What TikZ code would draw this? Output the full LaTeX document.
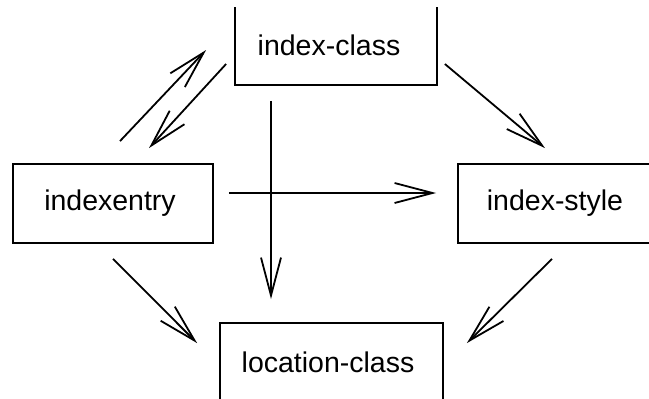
\documentclass[tikz,border=0pt]{standalone}
\usepackage{fontspec}
\setmainfont{Liberation Sans}
\usetikzlibrary{arrows.meta}

\tikzset{
  kasten/.style={draw, line width=1.8pt, inner sep=0pt,
    minimum width=#1, minimum height=79pt,
    font=\fontsize{28.5}{34}\selectfont},
  pfeil/.style={line width=1.8pt, -{Straight Barb[length=38pt,width=20pt]}}
}

\begin{document}
\begin{tikzpicture}[x=1pt, y=-1pt]
    % Rahmen der Zeichnung (y zaehlt nach unten)
    \useasboundingbox (0,0) rectangle (649,399);
    \clip (0,7) rectangle (649,399);

    % Die vier Kaesten (Text etwas nach links versetzt)
    \node[kasten=202pt] (klasse)  at (336,45.5)    {\kern-14pt index-class};
    \node[kasten=200pt] (eintrag) at (113,203.5)   {\kern-6pt indexentry};
    \node[kasten=194pt] (stil)    at (555,203.5)   {index-style};
    \node[kasten=223pt] (ort)     at (331.5,362.5) {\kern-7pt location-class};

    % Pfeile zwischen den Kaesten
    \draw[pfeil] ([shift={(7,-22)}]eintrag.north) -- ([shift={(-28,4.5)}]klasse.west);
    \draw[pfeil] ([shift={(-8,18.5)}]klasse.west) -- ([shift={(36,-15)}]eintrag.north);
    \draw[pfeil] ([shift={(-65,15)}]klasse.south) -- ([shift={(-60.5,-23)}]ort.north);
    \draw[pfeil] ([shift={(15,-10.5)}]eintrag.east) -- ([shift={(-21,-10.5)}]stil.west);
    \draw[pfeil] ([shift={(7,18.5)}]klasse.east) -- ([shift={(-10,-15)}]stil.north);
    \draw[pfeil] ([shift={(0,15)}]eintrag.south) -- ([shift={(-22,21)}]ort.north west);
    \draw[pfeil] ([shift={(-3,15)}]stil.south) -- ([shift={(23,21)}]ort.north east);
\end{tikzpicture}
\end{document}
